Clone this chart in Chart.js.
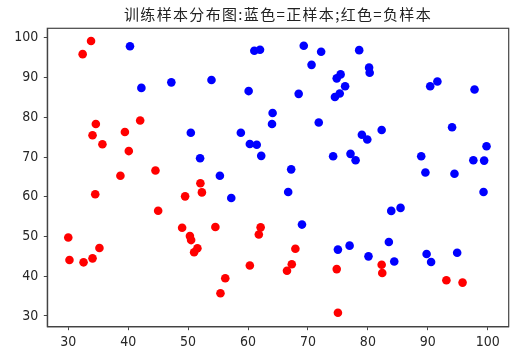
<!DOCTYPE html>
<html>
<head>
<meta charset="utf-8">
<script src="https://cdn.jsdelivr.net/npm/chart.js@4"></script>
<style>
html,body{margin:0;padding:0;background:#fff;}
canvas{display:block;}
</style>
</head>
<body>
<canvas id="c" width="528" height="356"></canvas>
<script>
const titleText='训练样本分布图:蓝色=正样本;红色=负样本';

// 正样本 (blue)
const posX=[40.3,42.2,47.2,53.9,60.1,61.05,62,64.1,64,50.45,58.8,60.3,61.45,62.2,52,55.3,57.2,
 69.3,72.2,78.55,70.6,80.2,80.3,75.45,74.8,76.2,75.3,74.5,68.45,71.8,91.6,90.4,97.8,94.05,82.3,
 79,79.9,99.8,74.2,77.1,77.95,88.9,97.6,99.4,89.6,94.45,67.2,66.7,99.3,83.9,85.45,69,75,76.95,
 80.1,83.5,84.4,89.8,90.55,94.9];
const posY=[97.9,87.4,88.8,89.4,86.6,96.75,97,81.1,78.3,76.1,76.1,73.3,73.1,70.3,69.7,65.3,59.7,
 98,96.5,96.9,93.2,92.5,91.2,90.8,89.8,87.8,86,85.1,85.9,78.7,89,87.8,87,77.5,76.8,
 75.6,74.4,72.7,70.2,70.8,69.2,70.2,69.2,69.1,66.1,65.8,66.9,61.2,61.2,56.45,57.2,53,46.7,47.7,
 45,48.6,43.7,45.6,43.6,45.9];

// 负样本 (red)
const negX=[33.8,32.4,34.6,34.05,35.7,39.45,42,40.1,44.55,38.7,34.5,45,49.5,52.05,52.3,49,50.3,
 50.5,51.55,51,54.55,62.1,61.8,60.3,56.2,55.4,30,30.2,32.55,34.05,35.2,67.9,67.3,66.5,74.8,75,
 82.3,82.4,93.1,95.8];
const negY=[99.2,95.9,78.3,75.5,73.2,76.3,79.2,71.5,66.6,65.3,60.65,56.5,60.1,63.4,61.1,52.2,50.1,
 49.1,47.05,46.05,52.4,52.3,50.5,42.7,39.5,35.7,49.75,44.1,43.5,44.5,47.1,46.9,43,41.4,41.8,30.8,
 42.9,40.8,39,38.4];

const xTicks=[30,40,50,60,70,80,90,100];
const yTicks=[30,40,50,60,70,80,90,100];

const pts=(xs,ys)=>xs.map((x,i)=>({x:x,y:ys[i]}));

const tickFont={family:'"Liberation Sans Narrow","DejaVu Sans Condensed",sans-serif',size:14};
const axisColor='#444';

const frame={
 id:'frame',
 afterDraw(chart){
  const {ctx,chartArea:a}=chart;
  ctx.save();
  ctx.strokeStyle=axisColor;
  ctx.lineWidth=1.2;
  ctx.strokeRect(a.left,a.top,a.right-a.left,a.bottom-a.top);
  // title
  ctx.font='15px "Noto Sans CJK SC",sans-serif';
  ctx.fillStyle='#222';
  ctx.textBaseline='middle';
  ctx.textAlign='left';
  const w=ctx.measureText(titleText).width;
  const sp=(308-w)/titleText.length;
  ctx.letterSpacing=sp+'px';
  const w2=ctx.measureText(titleText).width;
  ctx.fillText(titleText,(a.left+a.right)/2-w2/2,14);
  ctx.restore();
 }
};

new Chart(document.getElementById('c'),{
 type:'scatter',
 data:{datasets:[
  {label:'正样本',data:pts(posX,posY),backgroundColor:'#0000ff',borderWidth:0,pointRadius:4.3,pointHoverRadius:4.3},
  {label:'负样本',data:pts(negX,negY),backgroundColor:'#ff0000',borderWidth:0,pointRadius:4.3,pointHoverRadius:4.3}
 ]},
 options:{
  responsive:false,
  animation:false,
  devicePixelRatio:1,
  layout:{padding:{left:0,right:19.3,top:28.3,bottom:0}},
  plugins:{legend:{display:false},title:{display:false},tooltip:{enabled:false}},
  scales:{
   x:{
    type:'linear',min:26.5,max:103.5,
    afterBuildTicks:s=>{s.ticks=xTicks.map(v=>({value:v}));},
    afterFit:s=>{s.height=29.3;},
    grid:{drawOnChartArea:false,drawTicks:true,tickLength:3.5,color:axisColor,lineWidth:1},
    border:{display:true,color:axisColor,width:1.2},
    ticks:{font:tickFont,color:'#262626',padding:4,maxRotation:0}
   },
   y:{
    type:'linear',min:27.3,max:102.4,
    afterBuildTicks:s=>{s.ticks=yTicks.map(v=>({value:v}));},
    afterFit:s=>{s.width=47.3;},
    grid:{drawOnChartArea:false,drawTicks:true,tickLength:3.5,color:axisColor,lineWidth:1},
    border:{display:true,color:axisColor,width:1.2},
    ticks:{font:tickFont,color:'#262626',padding:5.5}
   }
  }
 },
 plugins:[frame]
});
</script>
</body>
</html>
